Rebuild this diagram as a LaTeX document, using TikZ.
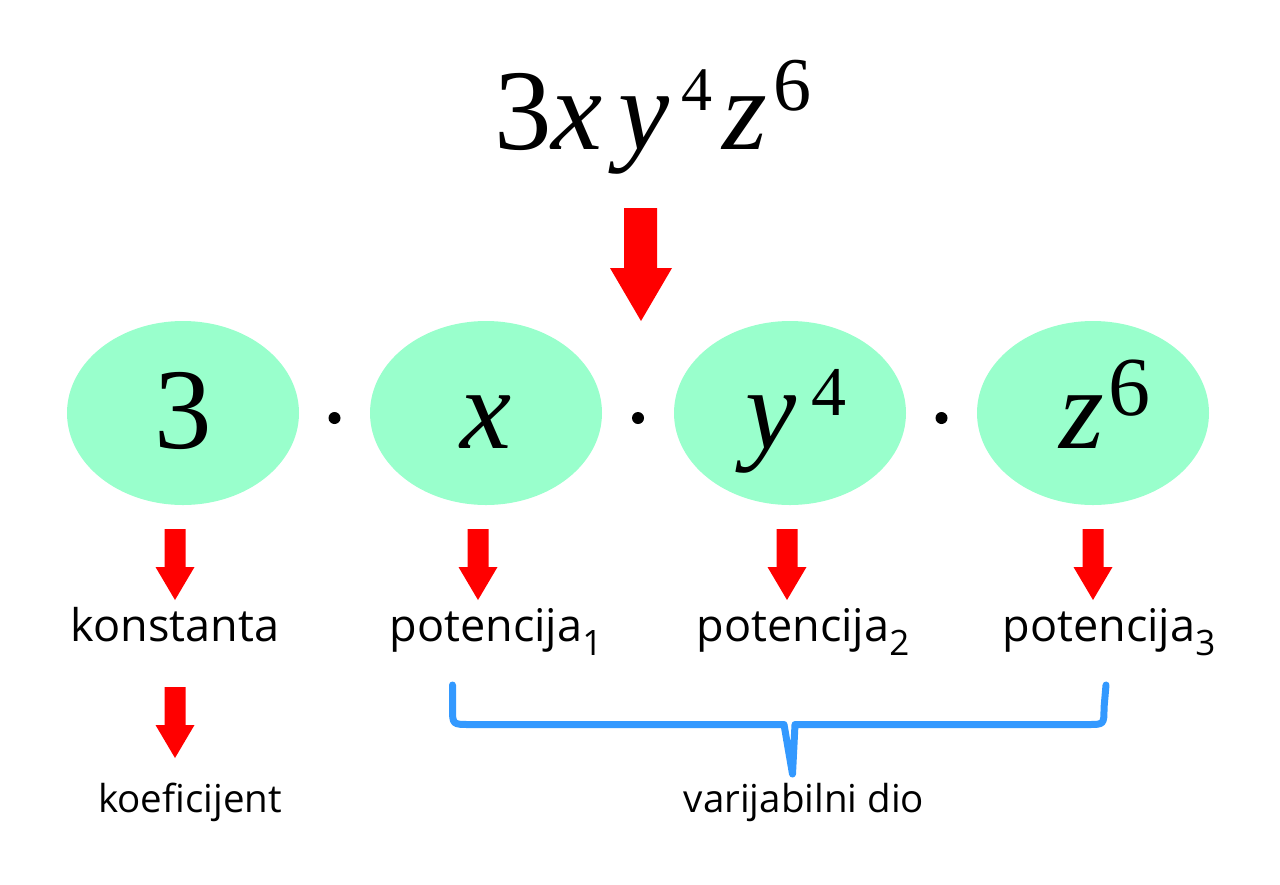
\documentclass[tikz,border=0pt]{standalone}
\usepackage{fontspec}
\setmainfont{Open Sans}
\newfontfamily\timesit{Liberation Serif}
\usetikzlibrary{shapes.geometric}

\definecolor{mint}{RGB}{153,255,204}
\definecolor{arrowred}{RGB}{255,0,0}
\definecolor{bracebl}{RGB}{51,153,255}

\newcommand\fsz[1]{\fontsize{#1}{#1}\selectfont}
% raise, size, digit
\newcommand\expo[3]{\raisebox{#1pt}{\fsz{#2}#3}}
\newcommand\lowidx[1]{\raisebox{-14pt}{\fsz{35}#1}}

\tikzset{
  term/.style={ellipse, fill=mint, inner sep=0pt, minimum width=232pt,
    minimum height=184pt, text height=80pt, text depth=10pt,
    font=\timesit\fsz{115}},
  dotmark/.style={circle, fill=black, inner sep=0pt, minimum size=12pt},
  lbl/.style={anchor=base, inner sep=0pt, font=\fsz{45}},
  pics/downarrow/.style={code={
    \fill[arrowred] (-10.5,0) -- (10.5,0) -- (10.5,38) -- (19.5,38)
      -- (0,71) -- (-19.5,38) -- (-10.5,38) -- cycle;}}
}

\begin{document}
\begin{tikzpicture}[x=1pt,y=-1pt]
  \useasboundingbox (0,0) rectangle (1280,884);

  %%%%  the monomial
  \node[anchor=base, inner sep=0pt, font=\timesit\fsz{115}] (mono) at (653,149)
    {3\textit{x}\kern16pt\textit{y}\kern12pt\expo{39}{62}{4}\kern10pt\textit{z}\kern6pt\expo{39}{76}{6}};
  \fill[arrowred] (624,208) -- (657,208) -- (657,268) -- (672,268)
    -- (641,321) -- (610,268) -- (624,268) -- cycle;

  %%%%  factors
  \node[term] (e3) at (183,413) {3};
  \node[term] (ex) at (486,413) {\textit{x}};
  \node[term] (ey) at (790,413) {\kern12pt\textit{y}\kern14pt\expo{33}{70}{4}};
  \node[term] (ez) at (1093,413) {\kern24pt\textit{z}\kern4pt\expo{33}{84}{6}};
  \foreach \i/\xd in {1/334.5,2/638,3/941.5}
    \node[dotmark] (dot\i) at (\xd,418) {};

  %%%%  arrows and labels
  \foreach \ax/\ay in {175/529,478/529,787/529,1093/529,175/687}
    \pic at (\ax,\ay) {downarrow};

  \node[lbl] (konst) at (175,641) {konstanta};
  \node[lbl] (pot1) at (496,641) {potencija\lowidx{1}};
  \node[lbl] (pot2) at (803,641) {potencija\lowidx{2}};
  \node[lbl] (pot3) at (1109,641) {potencija\lowidx{3}};

  \node[lbl, font=\fsz{38.5}] (koef) at (190,812) {koeficijent};
  \node[lbl, font=\fsz{38.5}] (vardio) at (804,812) {varijabilni dio};

  %%%%  brace
  \draw[bracebl, line width=7pt, line cap=round, line join=round]
    (452.5,685) -- (452.5,708) .. controls (452.5,724.5) .. (470,724.5)
    -- (784,724.5) -- (792.5,774) -- (795,724.5) -- (1088,724.5)
    .. controls (1104,724.5) .. (1104,708) -- (1106,685);
\end{tikzpicture}
\end{document}
